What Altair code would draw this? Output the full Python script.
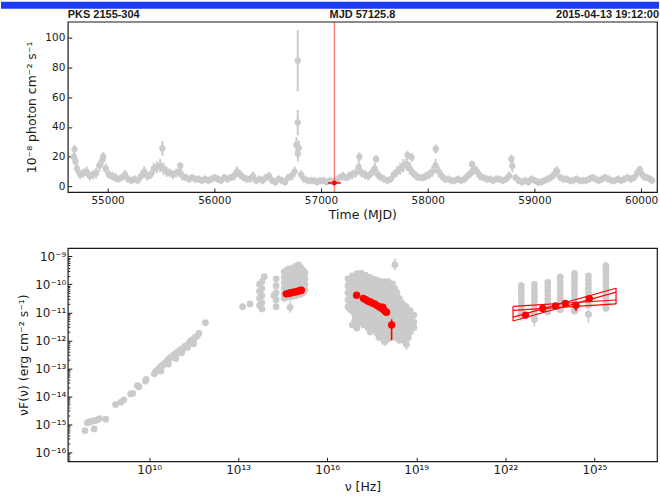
import altair as alt
import pandas as pd

# ---------------- header texts ----------------
SOURCE_NAME = "PKS 2155-304"
MJD_TEXT = "MJD 57125.8"
DATE_TEXT = "2015-04-13 19:12:00"

# ---------------- light curve (10^-8 ph cm^-2 s^-1) ----------------
lc_mjd = [
    54683, 54713, 54743, 54773, 54803, 54833, 54863, 54893, 54923, 54953,
    54983, 55013, 55043, 55073, 55103, 55133, 55163, 55193, 55223, 55253,
    55283, 55313, 55343, 55373, 55403, 55433, 55463, 55493, 55523, 55553,
    55583, 55613, 55643, 55673, 55703, 55733, 55763, 55793, 55823, 55853,
    55883, 55913, 55943, 55973, 56003, 56033, 56063, 56093, 56123, 56153,
    56183, 56213, 56243, 56273, 56303, 56333, 56363, 56393, 56423, 56453,
    56483, 56513, 56543, 56573, 56603, 56633, 56663, 56693, 56723, 56753,
    56783, 56813, 56843, 56873, 56903, 56933, 56963, 56993, 57023, 57053,
    57083, 57113, 57143, 57173, 57203, 57233, 57263, 57293, 57323, 57353,
    57383, 57413, 57443, 57473, 57503, 57533, 57563, 57593, 57623, 57653,
    57683, 57713, 57743, 57773, 57803, 57833, 57863, 57893, 57923, 57953,
    57983, 58013, 58043, 58073, 58103, 58133, 58163, 58193, 58223, 58253,
    58283, 58313, 58343, 58373, 58403, 58433, 58463, 58493, 58523, 58553,
    58583, 58613, 58643, 58673, 58703, 58733, 58763, 58793, 58823, 58853,
    58883, 58913, 58943, 58973, 59003, 59033, 59063, 59093, 59123, 59153,
    59183, 59213, 59243, 59273, 59303, 59333, 59363, 59393, 59423, 59453,
    59483, 59513, 59543, 59573, 59603, 59633, 59663, 59693, 59723, 59753,
    59783, 59813, 59843, 59873, 59903, 59933, 59963, 59993, 60023, 60053,
    60083, 60103,
]
lc_flux = [
    20, 12, 8, 9, 10, 7, 8, 9, 14, 18,
    12, 8, 7, 6, 5, 6, 8, 5, 4, 5,
    4, 7, 10, 7, 8, 12, 13, 14, 12, 10,
    9, 8, 9, 10, 7, 6, 5, 6, 5, 5,
    4, 5, 4, 5, 6, 5, 4, 6, 5, 6,
    7, 10, 8, 6, 5, 5, 7, 4, 5, 4,
    6, 7, 4, 3, 5, 4, 3, 6, 7, 10,
    22, 8, 5, 4, 4, 4, 3, 4, 4, 3,
    4, 3, 4, 6, 7, 6, 7, 8, 9, 13,
    9, 8, 7, 9, 12, 8, 6, 5, 4, 5,
    8, 10, 12, 14, 15, 12, 9, 7, 6, 6,
    7, 8, 10, 14, 10, 7, 5, 5, 4, 4,
    5, 4, 5, 7, 9, 12, 10, 7, 6, 5,
    5, 4, 5, 5, 4, 5, 7, 14, 6, 4,
    3, 4, 3, 5, 4, 3, 3, 4, 5, 6,
    8, 10, 6, 5, 5, 4, 4, 5, 4, 4,
    4, 5, 6, 5, 4, 5, 6, 5, 4, 4,
    5, 4, 5, 6, 5, 6, 9, 10, 7, 6,
    5, 4,
]
lc_err = [
    5, 3.5, 3, 3, 3.5, 3, 3, 3.5, 4, 4.5,
    3.5, 3, 3, 3, 2.5, 2.5, 3, 2.5, 2.5, 2.5,
    2.5, 3, 3.5, 3, 3, 4, 4, 4.5, 4, 3.5,
    3, 3, 3, 3.5, 3, 2.5, 2.5, 2.5, 2.5, 2.5,
    2.5, 2.5, 2.5, 2.5, 2.5, 2.5, 2.5, 2.5, 2.5, 2.5,
    3, 3.5, 3, 2.5, 2.5, 2.5, 3, 2.5, 2.5, 2.5,
    2.5, 3, 2.5, 2.5, 2.5, 2.5, 2.5, 2.5, 3, 3.5,
    5, 3, 2.5, 2.5, 2.5, 2.5, 2.5, 2.5, 2.5, 2.5,
    2.5, 2.5, 2.5, 2.5, 3, 2.5, 3, 3, 3, 4.5,
    3, 3, 3, 3, 4, 3, 2.5, 2.5, 2.5, 2.5,
    3, 3.5, 4, 4.5, 4.5, 4, 3, 3, 2.5, 2.5,
    3, 3, 3.5, 4.5, 3.5, 3, 2.5, 2.5, 2.5, 2.5,
    2.5, 2.5, 2.5, 3, 3, 4, 3.5, 3, 2.5, 2.5,
    2.5, 2.5, 2.5, 2.5, 2.5, 2.5, 3, 4.5, 2.5, 2.5,
    2.5, 2.5, 2.5, 2.5, 2.5, 2.5, 2.5, 2.5, 2.5, 2.5,
    3, 3.5, 2.5, 2.5, 2.5, 2.5, 2.5, 2.5, 2.5, 2.5,
    2.5, 2.5, 2.5, 2.5, 2.5, 2.5, 2.5, 2.5, 2.5, 2.5,
    2.5, 2.5, 2.5, 2.5, 2.5, 2.5, 3, 3.5, 3, 2.5,
    2.5, 2.5,
]
flare_mjd = [54690, 54700, 54960, 55513, 55681, 56770, 56782, 56782, 56792,
             57360, 57516, 57811, 57850, 58076, 58416, 58784, 59207, 59987]
flare_flux = [25, 17, 20, 25.6, 14, 28, 84.5, 43, 26,
              20, 18.5, 21, 19.6, 25.2, 15, 18.5, 10.7, 11.5]
flare_err = [3, 3, 3, 5, 2.5, 5, 20.5, 8.5, 5,
             3, 2.5, 3, 3, 3, 2.5, 3, 2, 2]

cur_mjd = [57125.8]
cur_flux = [2.4]
cur_flux_err = [1.0]
cur_halfbin = [60]

lc_xticks = [55000, 56000, 57000, 58000, 59000, 60000]
lc_yticks = [0, 20, 40, 60, 80, 100]

# ---------------- SED (log10 nu [Hz], log10 nuFnu [erg cm^-2 s^-1]) ----------------
radio_lognu = [7.84, 7.92, 7.98, 8.05, 8.12, 8.15, 8.2, 8.27, 8.33, 8.54, 8.87, 9.05,
               9.15, 9.38, 9.45, 9.6, 9.66, 9.88, 9.9, 10.18, 10.22, 10.3, 10.38, 10.4,
               10.45, 10.5, 10.55, 10.62, 10.65, 10.68, 10.72, 10.78, 10.85, 10.9, 10.9,
               10.95, 11.02, 11.08, 11.1, 11.15, 11.2, 11.28, 11.3, 11.35, 11.4, 11.48,
               11.5, 11.55, 11.62, 11.68, 11.9]
radio_logf = [-15.23, -14.95, -14.92, -14.9, -14.88, -15.17, -14.87, -14.84, -14.8, -14.82,
              -14.3, -14.22, -14.13, -13.92, -13.9, -13.62, -13.66, -13.46, -13.4, -13.2,
              -13.12, -13.05, -12.95, -13.1, -12.9, -12.85, -12.8, -12.72, -12.85, -12.66,
              -12.62, -12.58, -12.5, -12.52, -12.65, -12.42, -12.38, -12.33, -12.45, -12.3,
              -12.22, -12.18, -12.25, -12.1, -12.02, -11.98, -12.12, -11.9, -11.85, -11.75,
              -11.37]
ir_lognu = [13.15, 13.4, 13.72, 13.72, 13.72, 13.72, 13.8, 13.8, 13.8, 13.8, 13.8, 13.88,
            14.28, 14.28, 14.28, 14.28, 14.28, 14.2]
ir_logf = [-10.8, -10.7, -10.0, -10.25, -10.5, -10.75, -9.9, -10.15, -10.4, -10.65, -10.88,
           -9.72, -9.8, -10.05, -10.3, -10.55, -10.8, -10.4]
opt_col_lognu = [14.55, 14.63, 14.71, 14.79, 14.87, 14.95, 15.03, 15.11, 15.19, 15.25]
opt_col_logf = [
    [-9.55, -9.75, -9.95, -10.15, -10.35, -10.5],
    [-9.5, -9.7, -9.9, -10.1, -10.3, -10.45],
    [-9.45, -9.65, -9.85, -10.05, -10.25, -10.45],
    [-9.45, -9.65, -9.85, -10.05, -10.25, -10.45],
    [-9.4, -9.6, -9.8, -10.0, -10.2, -10.4],
    [-9.35, -9.55, -9.75, -9.95, -10.15, -10.4],
    [-9.3, -9.5, -9.7, -9.9, -10.1, -10.35],
    [-9.4, -9.6, -9.8, -10.0, -10.2, -10.35],
    [-9.5, -9.7, -9.9, -10.1, -10.3],
    [-9.6, -9.8, -10.0, -10.2],
]
xray_col_lognu = [16.70, 16.78, 16.85, 16.93, 17.00, 17.08, 17.15, 17.23, 17.30, 17.38,
                  17.45, 17.53, 17.60, 17.68, 17.75, 17.83, 17.90, 17.98, 18.05, 18.13,
                  18.20, 18.28, 18.35, 18.43, 18.50, 18.58, 18.65, 18.73, 18.80, 18.92]
xray_col_logf = [
    [-9.8, -10.05, -10.3, -10.55, -10.8],
    [-9.9, -10.15, -10.4, -10.65, -10.9],
    [-9.7, -9.95, -10.2, -10.45, -10.7, -10.95, -11.45],
    [-9.8, -10.1, -10.35, -10.6, -10.85, -11.1, -11.3],
    [-9.62, -9.87, -10.12, -10.37, -10.62, -10.87, -11.12, -11.4, -11.55],
    [-9.72, -9.98, -10.25, -10.5, -10.75, -11.0, -11.25],
    [-9.6, -9.85, -10.1, -10.35, -10.6, -10.85, -11.1, -11.35],
    [-9.7, -9.98, -10.22, -10.48, -10.72, -10.98, -11.22, -11.45],
    [-9.68, -9.93, -10.18, -10.43, -10.68, -10.93, -11.18, -11.45],
    [-9.8, -10.05, -10.3, -10.55, -10.8, -11.05, -11.3, -11.55],
    [-9.75, -10.0, -10.25, -10.5, -10.75, -11.0, -11.25, -11.5, -11.7],
    [-9.9, -10.15, -10.4, -10.65, -10.9, -11.15, -11.4, -11.62],
    [-9.82, -10.07, -10.32, -10.57, -10.82, -11.07, -11.32, -11.57],
    [-9.95, -10.2, -10.45, -10.7, -10.95, -11.2, -11.45, -11.75],
    [-9.88, -10.13, -10.38, -10.63, -10.88, -11.13, -11.38, -11.63, -11.9],
    [-10.0, -10.25, -10.5, -10.75, -11.0, -11.25, -11.5, -11.75],
    [-9.9, -10.15, -10.4, -10.65, -10.9, -11.15, -11.4, -11.65, -12.0],
    [-10.02, -10.28, -10.52, -10.78, -11.02, -11.28, -11.52, -11.8],
    [-9.9, -10.15, -10.4, -10.65, -10.9, -11.15, -11.4, -11.65, -11.95],
    [-10.05, -10.3, -10.55, -10.8, -11.05, -11.3, -11.55, -11.8],
    [-9.98, -10.23, -10.48, -10.73, -10.98, -11.23, -11.48, -11.73],
    [-10.15, -10.4, -10.65, -10.9, -11.15, -11.4, -11.65, -11.9],
    [-10.3, -10.55, -10.8, -11.05, -11.3, -11.55, -11.8],
    [-10.5, -10.75, -11.0, -11.25, -11.5, -11.75, -12.0],
    [-10.65, -10.9, -11.15, -11.4, -11.65, -11.9],
    [-10.75, -11.0, -11.25, -11.5, -11.75, -12.0],
    [-10.8, -11.05, -11.3, -11.55, -11.8, -12.05],
    [-10.9, -11.15, -11.4, -11.65, -11.9],
    [-10.95, -11.2, -11.45, -11.7],
    [-11.1, -11.35, -11.55],
]
gamma_col_lognu = [22.54, 22.98, 23.43, 23.85, 24.33, 24.8, 25.39]
gamma_col_logf = [
    [-10.05, -10.2, -10.35, -10.5, -10.65, -10.8, -10.95, -11.1],
    [-10.0, -10.15, -10.3, -10.45, -10.6, -10.75, -10.9, -11.05, -11.25],
    [-9.93, -10.08, -10.23, -10.38, -10.53, -10.68, -10.83, -10.98],
    [-9.75, -9.9, -10.05, -10.2, -10.35, -10.5, -10.65, -10.8, -10.9],
    [-9.62, -9.77, -9.92, -10.07, -10.22, -10.37, -10.52, -10.67, -10.82, -10.95],
    [-9.7, -9.85, -10.0, -10.15, -10.3, -10.45, -10.6, -10.75, -11.07],
    [-9.35, -9.5, -9.65, -9.8, -9.95, -10.1, -10.25, -10.4, -10.55, -10.7, -10.85],
]
grey_err_lognu = [14.75, 18.28, 17.94, 18.67, 16.99, 22.54, 22.98, 23.43, 23.85, 24.33,
                  24.8, 25.39, 25.39, 24.33, 23.85]
grey_err_logf = [-10.82, -9.3, -12.05, -12.15, -11.55, -11.1, -11.25, -10.98, -10.9, -10.95,
                 -11.07, -10.85, -9.35, -9.62, -9.75]
grey_err_lo = [-11.02, -9.5, -12.2, -12.35, -11.7, -11.3, -11.5, -11.1, -11.0, -11.05,
               -11.37, -11.0, -9.45, -9.75, -9.85]
grey_err_hi = [-10.6, -9.08, -11.9, -12.0, -11.4, -10.9, -11.1, -10.8, -10.75, -10.75,
               -10.9, -10.7, -9.18, -9.5, -9.6]

red_lognu = [14.62, 14.68, 14.74, 14.8, 14.86, 14.92, 14.98, 15.04, 15.09, 15.13,
             16.99, 17.22, 17.3, 17.38, 17.45, 17.52, 17.6, 17.68, 17.75, 17.82, 17.87,
             17.88, 17.92, 17.97, 18.0, 18.17,
             22.68, 23.26, 23.69, 24.02, 24.38, 24.83]
red_logf = [-10.34, -10.33, -10.31, -10.3, -10.28, -10.27, -10.26, -10.24, -10.22, -10.21,
            -10.39, -10.5, -10.55, -10.6, -10.63, -10.67, -10.7, -10.76, -10.8, -10.85, -10.82,
            -10.88, -10.93, -10.98, -11.0, -11.45,
            -11.1, -10.86, -10.77, -10.68, -10.75, -10.51]
red_err_lognu = [18.17, 22.68, 23.26, 23.69, 24.02, 24.38, 24.83]
red_err_logf = [-11.45, -11.1, -10.86, -10.77, -10.68, -10.75, -10.51]
red_err_lo = [-12.0, -11.2, -10.95, -10.85, -10.75, -10.95, -10.6]
red_err_hi = [-11.25, -11.0, -10.78, -10.7, -10.6, -10.66, -10.42]

bt_lognu_left = 22.26
bt_lognu_right = 25.73
bt_left_logf = [-10.79, -10.93, -11.17, -11.31]
bt_right_logf = [-10.56, -10.70, -10.14, -10.28]

sed_xticks_exp = [10, 13, 16, 19, 22, 25]
sed_yticks_exp = [-16, -15, -14, -13, -12, -11, -10, -9]

# ---------------- style ----------------
GREY = "#cbcbcb"
RED = "#ff0000"
BLUE = "#1b3cf3"
INK = "#1a1a1a"
W = 591
H_TOP = 171
H_BOT = 214

# ---------------- build tables ----------------
lc = pd.DataFrame({"mjd": lc_mjd, "flux": lc_flux, "err": lc_err})
fl = pd.DataFrame({"mjd": flare_mjd, "flux": flare_flux, "err": flare_err})
lc_all = pd.concat([lc, fl], ignore_index=True)
lc_all["lo"] = lc_all["flux"] - lc_all["err"]
lc_all["hi"] = lc_all["flux"] + lc_all["err"]
cur = pd.DataFrame({"mjd": cur_mjd, "flux": cur_flux, "ferr": cur_flux_err, "hb": cur_halfbin})
cur["lo"] = cur["flux"] - cur["ferr"]
cur["hi"] = cur["flux"] + cur["ferr"]
cur["m0"] = cur["mjd"] - cur["hb"]
cur["m1"] = cur["mjd"] + cur["hb"]

grey_rows = []
for a, b in zip(radio_lognu, radio_logf):
    grey_rows.append((a, b))
for a, b in zip(ir_lognu, ir_logf):
    grey_rows.append((a, b))
for cols, vals in ((opt_col_lognu, opt_col_logf), (xray_col_lognu, xray_col_logf),
                   (gamma_col_lognu, gamma_col_logf)):
    for a, fs in zip(cols, vals):
        for b in fs:
            grey_rows.append((a, b))
for a, b in zip(grey_err_lognu, grey_err_logf):
    grey_rows.append((a, b))
grey = pd.DataFrame(grey_rows, columns=["lnu", "lf"])
grey["nu"] = 10 ** grey["lnu"]
grey["f"] = 10 ** grey["lf"]

gerr = pd.DataFrame({"nu": [10 ** v for v in grey_err_lognu],
                     "lo": [10 ** v for v in grey_err_lo],
                     "hi": [10 ** v for v in grey_err_hi]})
red = pd.DataFrame({"nu": [10 ** v for v in red_lognu], "f": [10 ** v for v in red_logf]})
rerr = pd.DataFrame({"nu": [10 ** v for v in red_err_lognu],
                     "lo": [10 ** v for v in red_err_lo],
                     "hi": [10 ** v for v in red_err_hi]})
seg = []
for l, r in zip(bt_left_logf, bt_right_logf):
    seg.append((bt_lognu_left, bt_lognu_right, l, r))
seg.append((bt_lognu_left, bt_lognu_left, max(bt_left_logf), min(bt_left_logf)))
seg.append((bt_lognu_right, bt_lognu_right, max(bt_right_logf), min(bt_right_logf)))
bt = pd.DataFrame(seg, columns=["a", "b", "c", "d"])
bt["x"] = 10 ** bt["a"]
bt["x2"] = 10 ** bt["b"]
bt["y"] = 10 ** bt["c"]
bt["y2"] = 10 ** bt["d"]

# ---------------- top panel ----------------
xs_top = alt.Scale(domain=[54627, 60149], nice=False, zero=False)
ys_top = alt.Scale(domain=[-3.8, 110.7], nice=False, zero=False)
ax_top_x = alt.Axis(values=lc_xticks, format="d", title="Time (MJD)",
                    tickSize={"expr": "-4"}, labelPadding=7, titlePadding=3)
ax_top_y = alt.Axis(values=lc_yticks, format="d", title="10⁻⁸ photon cm⁻² s⁻¹",
                    tickSize={"expr": "-4"}, labelPadding=7, titlePadding=6)


def TX(f):
    return alt.X(f, type="quantitative", scale=xs_top, axis=ax_top_x)


def TY(f):
    return alt.Y(f, type="quantitative", scale=ys_top, axis=ax_top_y)


one = pd.DataFrame({"k": [0]})
bar = alt.Chart(one).mark_rect(color=BLUE).encode(
    x=alt.value(-67), x2=alt.value(W + 2), y=alt.value(-20), y2=alt.value(-13))
hdr_l = alt.Chart(pd.DataFrame({"t": [SOURCE_NAME]})).mark_text(
    align="left", baseline="middle", fontWeight="bold", fontSize=11, color=INK).encode(
    x=alt.value(0), y=alt.value(-7), text="t:N")
hdr_c = alt.Chart(pd.DataFrame({"t": [MJD_TEXT]})).mark_text(
    align="center", baseline="middle", fontWeight="bold", fontSize=11, color=INK).encode(
    x=alt.value(W / 2), y=alt.value(-7), text="t:N")
hdr_r = alt.Chart(pd.DataFrame({"t": [DATE_TEXT]})).mark_text(
    align="right", baseline="middle", fontWeight="bold", fontSize=11, color=INK).encode(
    x=alt.value(W + 2), y=alt.value(-7), text="t:N")

lc_bars = alt.Chart(lc_all).mark_rule(color=GREY, strokeWidth=2).encode(
    x=TX("mjd"), y=TY("lo"), y2="hi")
lc_pts = alt.Chart(lc_all).mark_circle(color=GREY, size=40, opacity=1).encode(
    x=TX("mjd"), y=TY("flux"))
cur_line = alt.Chart(cur).mark_rule(color=RED, strokeWidth=1.4, opacity=0.5).encode(x=TX("mjd"))
cur_h = alt.Chart(cur).mark_rule(color=RED, strokeWidth=1.5).encode(x=TX("m0"), x2="m1", y=TY("flux"))
cur_v = alt.Chart(cur).mark_rule(color=RED, strokeWidth=1.5).encode(x=TX("mjd"), y=TY("lo"), y2="hi")
cur_p = alt.Chart(cur).mark_circle(color=RED, size=22, opacity=1).encode(x=TX("mjd"), y=TY("flux"))

top = alt.layer(bar, hdr_l, hdr_c, hdr_r, lc_bars, lc_pts, cur_line, cur_h, cur_v, cur_p).properties(
    width=W, height=H_TOP)

# ---------------- bottom panel ----------------
SUP = {"-": "⁻", "0": "⁰", "1": "¹", "2": "²", "3": "³", "4": "⁴",
       "5": "⁵", "6": "⁶", "7": "⁷", "8": "⁸", "9": "⁹"}
ex = "('' + round(log(datum.value) / LN10))"
for k, v in SUP.items():
    ex = f"replace({ex}, regexp('{k}', 'g'), '{v}')"
label_expr = "'10' + " + ex

xs_bot = alt.Scale(type="log", domain=[10 ** 7.262, 10 ** 27.11], nice=False)
ys_bot = alt.Scale(type="log", domain=[10 ** -16.33, 10 ** -8.70], nice=False)
ax_bot_x = alt.Axis(values=[10.0 ** e for e in sed_xticks_exp], labelExpr=label_expr,
                    title="ν [Hz]", tickSize={"expr": "-4"}, labelPadding=7, titlePadding=5,
                    labelFontSize=12)
ax_bot_y = alt.Axis(values=[10.0 ** e for e in sed_yticks_exp], labelExpr=label_expr,
                    title="νF(ν) (erg cm⁻² s⁻¹)", tickSize={"expr": "-4"},
                    labelPadding=6, titlePadding=4, labelFontSize=12)
minor_vals = []
for e in range(-17, -8):
    for m in range(2, 10):
        v = m * 10.0 ** e
        if 10 ** -16.33 <= v <= 10 ** -8.70:
            minor_vals.append(v)
ax_bot_y_minor = alt.Axis(values=minor_vals, labels=False, title=None, orient="left",
                          tickSize={"expr": "-2"}, domain=False)


def BX(f):
    return alt.X(f, type="quantitative", scale=xs_bot, axis=ax_bot_x)


def BY(f):
    return alt.Y(f, type="quantitative", scale=ys_bot, axis=ax_bot_y)


g_err = alt.Chart(gerr).mark_rule(color=GREY, strokeWidth=1.6).encode(x=BX("nu"), y=BY("lo"), y2="hi")
g_pts = alt.Chart(grey).mark_circle(color=GREY, size=46, opacity=1).encode(x=BX("nu"), y=BY("f"))
bt_lines = alt.Chart(bt).mark_rule(color=RED, strokeWidth=1.2).encode(
    x=BX("x"), x2="x2", y=BY("y"), y2="y2")
r_err = alt.Chart(rerr).mark_rule(color=RED, strokeWidth=1.6).encode(x=BX("nu"), y=BY("lo"), y2="hi")
r_pts = alt.Chart(red).mark_circle(color=RED, size=55, opacity=1).encode(x=BX("nu"), y=BY("f"))
main_bot = alt.layer(g_err, g_pts, bt_lines, r_err, r_pts)
minor = alt.Chart(red).mark_circle(opacity=0).encode(
    x=BX("nu"),
    y=alt.Y("f:Q", scale=ys_bot, axis=ax_bot_y_minor))
bottom = alt.layer(main_bot, minor).resolve_axis(y="independent").properties(width=W, height=H_BOT)

chart = alt.VConcatChart(vconcat=[top, bottom], spacing=56, bounds="flush").properties(
    padding={"left": 0, "top": 0, "right": 0, "bottom": 0}, background="white"
).configure_view(stroke=INK, strokeWidth=1.2).configure_axis(
    grid=False, domain=False, labelFont="DejaVu Sans", titleFont="DejaVu Sans",
    labelFontSize=10.5, titleFontSize=12.5, titleFontWeight="normal",
    labelColor=INK, titleColor=INK, tickColor=INK, tickWidth=1
)

chart.save("out.html", embed_options={"renderer": "svg", "actions": False})
